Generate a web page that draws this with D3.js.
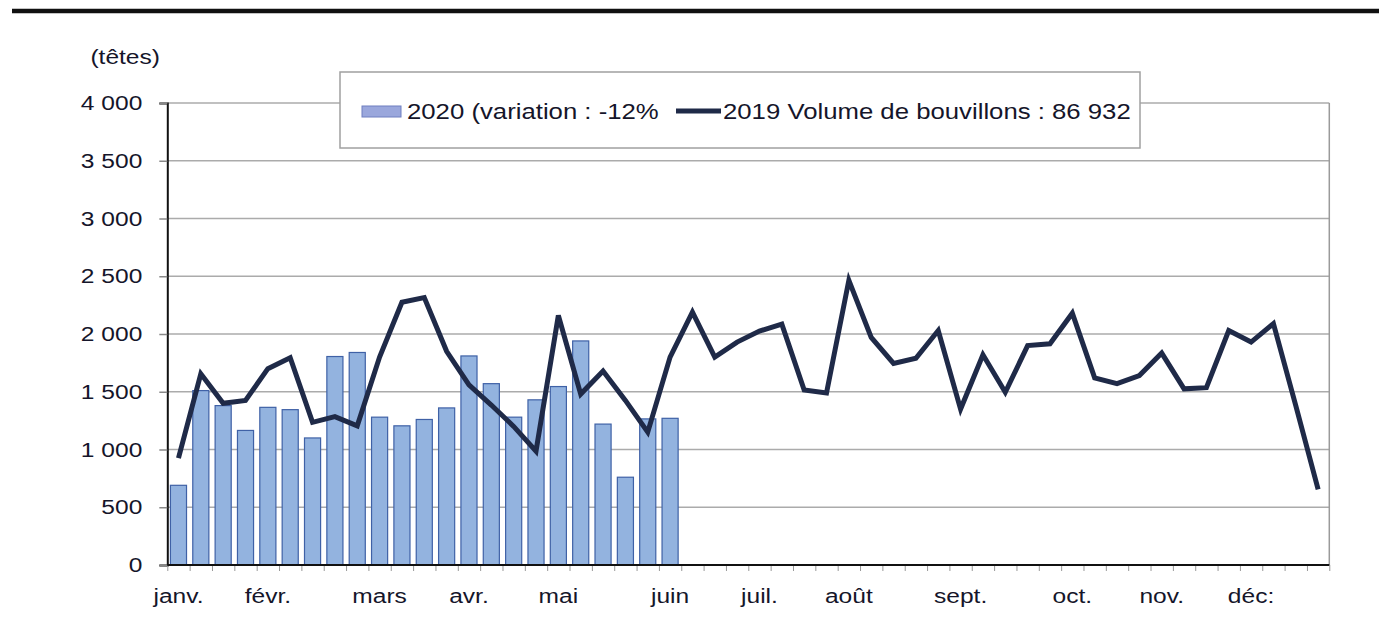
<!DOCTYPE html>
<html>
<head>
<meta charset="utf-8">
<script src="https://cdn.jsdelivr.net/npm/d3@7"></script>
<style>
  body { margin: 0; background: #fff; }
  text { font-family: "Liberation Sans", Arial, sans-serif; fill: #15152a; }
</style>
</head>
<body>
<div id="root"></div>
<script>
// DATA (weekly slaughter of bouvillons, heads)
const weeks = d3.range(52);
const bars2020 = [690, 1510, 1380, 1165, 1365, 1345, 1100, 1805, 1840, 1280,
  1205, 1260, 1360, 1810, 1570, 1280, 1430, 1545, 1940, 1220, 760, 1265, 1270];
const line2019 = [925, 1655, 1400, 1425, 1700, 1795, 1235, 1285, 1205, 1800,
  2275, 2315, 1850, 1560, 1385, 1200, 985, 2160, 1480, 1680,
  1425, 1150, 1800, 2190, 1800, 1930, 2025, 2085, 1515, 1490,
  2465, 1970, 1745, 1790, 2030, 1350, 1820, 1495, 1900, 1915,
  2180, 1620, 1570, 1640, 1835, 1525, 1535, 2030, 1930, 2090,
  1380, 655];
const monthLabels = ["janv.", "févr.", "mars", "avr.", "mai", "juin", "juil.", "août", "sept.", "oct.", "nov.", "déc:"];
const monthWeeks = [0, 4, 9, 13, 17, 22, 26, 30, 35, 40, 44, 48];
const yTicks = [0, 500, 1000, 1500, 2000, 2500, 3000, 3500, 4000];
const unitLabel = "(têtes)";
const legendLabels = ["2020 (variation : -12%", "2019 Volume de bouvillons : 86 932"];

// DIMENSIONS
let width = 1379, height = 630;
let plotLeft = 167.3, plotRight = 1329.3, plotTop = 103, plotBottom = 565;
const K = 1.17; // horizontal stretch of the lettering in the original

function stretch(sel) {
  sel.each(function () {
    let t = d3.select(this);
    let x = +t.attr("x") || 0;
    t.attr("transform", `translate(${x},0) scale(${K},1) translate(${-x},0)`);
  });
}

let svg = d3.select('#root').append('svg')
  .attr('width', width).attr('height', height)
  .style('background', '#fff');

// top rule
svg.append('line')
  .attr('x1', 12).attr('x2', width).attr('y1', 11).attr('y2', 11)
  .attr('stroke', '#111').attr('stroke-width', 4.5);

// scales
let x = d3.scaleBand().domain(weeks).range([plotLeft, plotRight]).paddingInner(0.28).paddingOuter(0.14);
let xLin = d3.scaleLinear().domain([0, 52]).range([plotLeft, plotRight]);
let y = d3.scaleLinear().domain([0, 4000]).range([plotBottom, plotTop]);

// gridlines
svg.append('g').selectAll('line')
  .data(yTicks.filter(d => d > 0))
  .enter().append('line')
  .attr('x1', plotLeft).attr('x2', plotRight)
  .attr('y1', d => y(d)).attr('y2', d => y(d))
  .attr('stroke', '#ababab').attr('stroke-width', 1.6);

// right border
svg.append('line')
  .attr('x1', plotRight).attr('x2', plotRight).attr('y1', plotTop).attr('y2', plotBottom)
  .attr('stroke', '#9a9a9a').attr('stroke-width', 1.5);

// bars 2020
svg.append('g').selectAll('rect')
  .data(bars2020)
  .enter().append('rect')
  .attr('x', (d, i) => x(i))
  .attr('width', x.bandwidth())
  .attr('y', d => y(d))
  .attr('height', d => y(0) - y(d))
  .attr('fill', '#93b3df')
  .attr('stroke', '#3f61a6')
  .attr('stroke-width', 1.2);

// line 2019
let line = d3.line()
  .x((d, i) => x(i) + x.bandwidth() / 2)
  .y(d => y(d));

svg.append('path')
  .datum(line2019)
  .attr('d', line)
  .attr('fill', 'none')
  .attr('stroke', '#1f2a48')
  .attr('stroke-width', 5)
  .attr('stroke-linejoin', 'miter');

// Y axis
let fmt = d3.format(",d");
let yAxis = svg.append('g')
  .attr('transform', `translate(${plotLeft},0)`)
  .call(d3.axisLeft(y).tickValues(yTicks).tickSize(8).tickPadding(17)
    .tickFormat(d => fmt(d).replace(/,/g, " ")));
yAxis.select('.domain').attr('stroke', '#111').attr('stroke-width', 2);
yAxis.selectAll('.tick line').attr('stroke', '#888').attr('stroke-width', 1.5);
yAxis.selectAll('text').style('font-size', '21px').attr('fill', '#15152a');
stretch(yAxis.selectAll('text'));

// X axis: week ticks
let xTicks = svg.append('g')
  .attr('transform', `translate(0,${plotBottom})`)
  .call(d3.axisBottom(xLin).tickValues(d3.range(53)).tickSize(6).tickFormat(''));
xTicks.select('.domain').remove();
xTicks.selectAll('.tick line').attr('stroke', '#999').attr('stroke-width', 1);

// X axis: month labels
let xLabels = svg.append('g')
  .attr('transform', `translate(0,${plotBottom})`)
  .call(d3.axisBottom(x).tickValues(monthWeeks).tickSize(0).tickPadding(23)
    .tickFormat(i => monthLabels[monthWeeks.indexOf(i)]));
xLabels.select('.domain').remove();
xLabels.selectAll('text').style('font-size', '21px').attr('fill', '#15152a');
stretch(xLabels.selectAll('text'));

// x axis line
svg.append('line')
  .attr('x1', plotLeft).attr('x2', plotRight).attr('y1', plotBottom).attr('y2', plotBottom)
  .attr('stroke', '#111').attr('stroke-width', 2);

// unit label
svg.append('text')
  .attr('x', 160).attr('y', 64)
  .attr('text-anchor', 'end')
  .style('font-size', '21px')
  .text(unitLabel)
  .call(stretch);

// legend
let legend = svg.append('g');
legend.append('rect')
  .attr('x', 340).attr('y', 72).attr('width', 800).attr('height', 76)
  .attr('fill', '#fff').attr('stroke', '#a0a0a0').attr('stroke-width', 1.5);
legend.append('rect')
  .attr('x', 362).attr('y', 106).attr('width', 39).attr('height', 11)
  .attr('fill', '#9aa7dc').attr('stroke', '#6f7fc0').attr('stroke-width', 1);
legend.append('line')
  .attr('x1', 676).attr('x2', 721).attr('y1', 111).attr('y2', 111)
  .attr('stroke', '#1f2a48').attr('stroke-width', 5);
legend.selectAll('.legend-text')
  .data(legendLabels)
  .enter().append('text')
  .attr('class', 'legend-text')
  .attr('x', (d, i) => i === 0 ? 407 : 723)
  .attr('y', 111)
  .attr('dy', '0.35em')
  .style('font-size', '22px')
  .text(d => d)
  .call(stretch);
</script>
</body>
</html>
